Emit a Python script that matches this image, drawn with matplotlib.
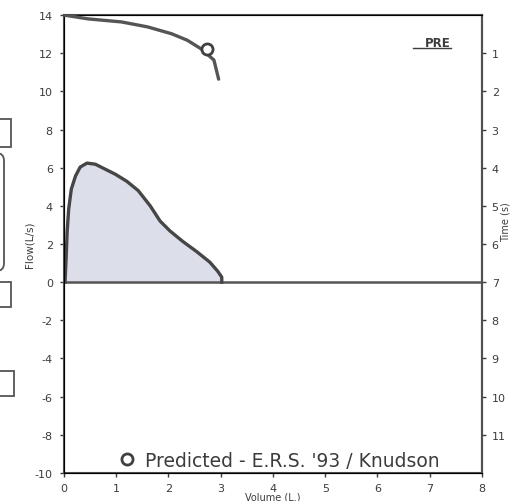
import matplotlib
matplotlib.use("Agg")
import matplotlib.pyplot as plt
from matplotlib.patches import Rectangle, FancyBboxPatch

plt.rcParams['font.family'] = ['DejaVu Sans']
plt.rcParams['axes.unicode_minus'] = False

# --- courbe débit-volume (expiration forcée) ---
fv_volume = [0.02, 0.04, 0.06, 0.09, 0.14, 0.22, 0.31, 0.44, 0.60, 0.79,
             0.98, 1.20, 1.42, 1.65, 1.84, 2.03, 2.28, 2.54, 2.79, 2.94,
             3.02, 3.02]
fv_flow = [0.0, 1.21, 2.62, 3.83, 4.87, 5.56, 6.03, 6.24, 6.18, 5.92,
           5.66, 5.29, 4.80, 4.00, 3.20, 2.68, 2.12, 1.60, 1.05, 0.58,
           0.26, 0.0]

# --- courbe volume-temps (axe de droite, temps inversé) ---
vt_time = [0.0, 0.10, 0.18, 0.31, 0.49, 0.66, 0.89, 1.18, 1.68]
vt_volume = [0.0, 0.46, 1.10, 1.60, 2.06, 2.36, 2.63, 2.87, 2.96]

# valeur prédite (E.R.S. '93 / Knudson)
pred_volume = [2.74]
pred_time = [0.88]

flow_ticks = list(range(-10, 15, 2))
time_ticks = list(range(1, 12))
volume_ticks = list(range(0, 9))

ink = '#3c3c3c'
fig = plt.figure(figsize=(5.16, 5.02), dpi=100)
ax = fig.add_axes([0.124, 0.056, 0.810, 0.912])

ax.fill_between(fv_volume, fv_flow, 0, color='#dcdfea', zorder=1)
ax.plot(fv_volume, fv_flow, color='#464646', lw=2.4, solid_joinstyle='round', zorder=3)
ax.axhline(0, color='#555555', lw=1.8, zorder=2)

ax.set_xlim(0, 8)
ax.set_ylim(-10, 14)
ax.set_xticks(volume_ticks)
ax.set_yticks(flow_ticks)
ax.tick_params(axis='both', direction='out', length=3, width=1, colors=ink,
               labelsize=8)
ax.tick_params(axis='y', pad=5)
ax.tick_params(axis='x', pad=4)
ax.set_xlabel('Volume (L.)', fontsize=7, color=ink, labelpad=-1)
ax.set_ylabel('Flow(L/s)', fontsize=7.5, color=ink, labelpad=0)
for s in ax.spines.values():
    s.set_color('#505050')
    s.set_linewidth(1.5)

ax2 = ax.twinx()
ax2.set_ylim(12, 0)
ax2.set_yticks(time_ticks)
ax2.tick_params(axis='y', direction='out', length=3, width=1, colors=ink,
                labelsize=8, pad=4)
ax2.set_ylabel('Time (s)', fontsize=7, color=ink)
ax2.yaxis.set_label_coords(1.045, 0.55)
ax2.spines['right'].set_color('#505050')
ax2.spines['right'].set_linewidth(1.5)
ax2.plot(vt_volume, vt_time, color='#555555', lw=2.4, solid_capstyle='round', zorder=3)
ax2.plot(pred_volume, pred_time, linestyle='none', marker='o', markersize=8,
         markerfacecolor='white', markeredgecolor='#404040', markeredgewidth=2,
         label="Predicted - E.R.S. '93 / Knudson", zorder=4)
leg = ax2.legend(loc='lower center', bbox_to_anchor=(0.515, -0.03), frameon=False,
                 handlelength=0.8, handletextpad=0.55, prop={'size': 13.5})
for t in leg.get_texts():
    t.set_color(ink)

ax.text(0.925, 0.955, 'PRE', transform=ax.transAxes, ha='right', va='top',
        fontsize=8.5, fontweight='bold', color=ink)
ax.plot([0.835, 0.925], [0.928, 0.928], transform=ax.transAxes, color=ink, lw=1)

# fragments de la page voisine (bord gauche du scan)
W, H = 516, 502
for (x0, y0, w, h) in [(-20, 120, 31, 28), (-20, 283, 31, 25), (-20, 372, 34, 25)]:
    fig.patches.append(Rectangle((x0 / W, 1 - (y0 + h) / H), w / W, h / H,
                                 transform=fig.transFigure, fill=False,
                                 edgecolor='#555555', lw=1.3))
fig.patches.append(FancyBboxPatch((-30 / W, 1 - 272 / H), 34 / W, 118 / H,
                                  boxstyle='round,pad=0,rounding_size=0.015',
                                  transform=fig.transFigure, fill=False,
                                  edgecolor='#555555', lw=1.3))

fig.savefig('out.png', dpi=100)
